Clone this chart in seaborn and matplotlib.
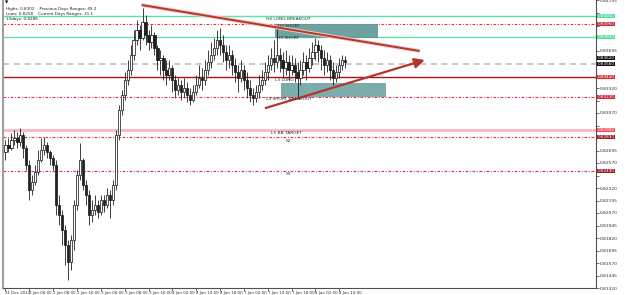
import numpy as np
import pandas as pd
import matplotlib
matplotlib.use("Agg")
import matplotlib.pyplot as plt
import seaborn as sns
from matplotlib.patches import Rectangle
import matplotlib.patheffects as pe

# ---------------- data (prices in 1/10000) ----------------
first_open = 8268
close_p = [8275, 8272, 8280, 8282, 8278, 8285, 8272, 8255, 8230, 8238, 8248, 8260, 8270, 8275, 8268, 8262, 8255,
           8215, 8205, 8190, 8175, 8158, 8180, 8215, 8245, 8260, 8235, 8225, 8205, 8210, 8215, 8208, 8220, 8215,
           8225, 8220, 8235, 8285, 8310, 8325, 8340, 8350, 8365, 8380, 8390, 8382, 8398, 8385, 8378, 8385, 8372,
           8360, 8362, 8350, 8345, 8352, 8340, 8330, 8335, 8328, 8332, 8325, 8320, 8328, 8335, 8342, 8340, 8350,
           8358, 8365, 8372, 8380, 8375, 8368, 8360, 8365, 8355, 8348, 8342, 8350, 8340, 8332, 8325, 8322, 8328,
           8335, 8340, 8348, 8355, 8362, 8358, 8365, 8360, 8352, 8358, 8350, 8355, 8348, 8342, 8350, 8358, 8352,
           8362, 8368, 8375, 8370, 8362, 8355, 8360, 8350, 8342, 8348, 8355, 8360, 8358]
high_p = [8280, 8282, 8287, 8290, 8288, 8292, 8288, 8275, 8260, 8245, 8255, 8270, 8282, 8283, 8278, 8270, 8265,
          8260, 8225, 8210, 8195, 8180, 8185, 8220, 8250, 8277, 8262, 8240, 8230, 8220, 8225, 8220, 8225, 8225,
          8232, 8230, 8240, 8290, 8315, 8330, 8348, 8360, 8375, 8390, 8400, 8395, 8412, 8405, 8390, 8395, 8388,
          8375, 8370, 8365, 8360, 8360, 8355, 8345, 8342, 8340, 8342, 8338, 8332, 8335, 8345, 8355, 8352, 8360,
          8370, 8378, 8382, 8390, 8392, 8385, 8375, 8375, 8370, 8362, 8355, 8360, 8355, 8348, 8340, 8332, 8335,
          8345, 8350, 8358, 8365, 8372, 8380, 8395, 8372, 8368, 8370, 8365, 8365, 8362, 8358, 8360, 8368, 8365,
          8372, 8378, 8382, 8380, 8375, 8370, 8368, 8365, 8358, 8355, 8362, 8365, 8364]
low_p = [8260, 8268, 8270, 8275, 8272, 8274, 8262, 8250, 8220, 8225, 8235, 8245, 8258, 8265, 8262, 8255, 8250,
         8205, 8195, 8175, 8155, 8140, 8150, 8170, 8210, 8240, 8230, 8215, 8195, 8198, 8205, 8202, 8205, 8208,
         8212, 8202, 8215, 8230, 8280, 8305, 8320, 8335, 8345, 8360, 8375, 8370, 8380, 8375, 8370, 8372, 8365,
         8350, 8345, 8340, 8335, 8340, 8328, 8322, 8325, 8320, 8322, 8318, 8315, 8318, 8325, 8332, 8330, 8335,
         8345, 8352, 8360, 8365, 8365, 8358, 8350, 8352, 8345, 8338, 8328, 8338, 8330, 8322, 8318, 8315, 8318,
         8322, 8330, 8335, 8340, 8350, 8348, 8352, 8348, 8342, 8345, 8340, 8345, 8338, 8323, 8335, 8345, 8340,
         8348, 8355, 8360, 8358, 8350, 8345, 8348, 8340, 8335, 8338, 8342, 8350, 8352]

date_labels = ["31 Dec 2012", "2 Jan 00:00", "2 Jan 08:00", "2 Jan 16:00", "3 Jan 00:00", "3 Jan 08:00",
               "3 Jan 16:00", "4 Jan 02:00", "4 Jan 10:00", "4 Jan 18:00", "7 Jan 02:00", "7 Jan 10:00",
               "7 Jan 18:00", "8 Jan 02:00", "8 Jan 10:00"]

level_prices = [0.8404, 0.8396, 0.8383, 0.8356, 0.8343, 0.8323, 0.8290, 0.8283, 0.8249]
level_kinds = ["green", "reddot", "green", "graydash", "redsolid", "reddot", "pink", "reddot", "reddot"]

level_texts = ["H4 LONG BREAKOUT", "H3 SHORT", "H3 SHORT", "L3 LONG", "L4 SHORT BREAKOUT", "L5 BB TARGET", "S2", "S3"]
level_text_prices = [0.8401, 0.8394, 0.8382, 0.8340, 0.8321, 0.8287, 0.8279, 0.8246]
level_text_bars = [87.5, 91.5, 91.0, 90.5, 87.5, 89.0, 94.0, 94.0]

info_lines = ["Highs: 0.8302    Previous Days Ranges: 49.2",
              "Lows: 0.8258    Current Days Ranges: 31.1",
              "13days: 0.8286"]

bid_price = 0.8362

# ---------------- build frame ----------------
df = pd.DataFrame({
    "close": np.array(close_p) / 10000.0,
    "high": np.array(high_p) / 10000.0,
    "low": np.array(low_p) / 10000.0,
})
df["open"] = np.r_[first_open / 10000.0, df["close"].values[:-1]]
df["bar"] = np.arange(len(df))

sns.set_theme(style="white")
plt.rcParams["font.family"] = ["DejaVu Sans"]

fig = plt.figure(figsize=(6.25, 2.95), dpi=100)
ax = fig.add_axes([0.004, 7 / 295, 593 / 625, 288 / 295])
ax.set_xlim(-1, 198)
ax.set_ylim(0.8132, 0.8420)

for p, k in zip(level_prices, level_kinds):
    if k == "green":
        ax.axhline(p, color="#5be3a8", lw=1.0, zorder=1)
    elif k == "reddot":
        ax.axhline(p, color="#e03040", lw=0.8, ls=(0, (2.5, 1.5, 0.8, 1.5)), zorder=1)
    elif k == "graydash":
        ax.axhline(p, color="#b8b8b8", lw=1.1, ls=(0, (4, 3)), zorder=1)
    elif k == "redsolid":
        ax.axhline(p, color="#b01010", lw=1.0, zorder=1)
    elif k == "pink":
        ax.axhline(p, color="#f7b8c2", lw=2.0, zorder=1)

ax.add_patch(Rectangle((90.3, 0.8382), 34.7, 0.0014, color="#5e9898", alpha=0.9, zorder=2, lw=0))
ax.add_patch(Rectangle((92.3, 0.8323), 35.4, 0.0014, color="#6ea3a3", alpha=0.9, zorder=2, lw=0))

up = df["close"] >= df["open"]
hi = np.maximum(df["high"], np.maximum(df["open"], df["close"]))
lo = np.minimum(df["low"], np.minimum(df["open"], df["close"]))
ax.vlines(df["bar"], lo, hi, color="#202020", lw=0.6, zorder=3)
body_lo = np.minimum(df["open"], df["close"])
body_h = np.maximum(np.abs(df["close"] - df["open"]), 0.00004)
ax.bar(df["bar"][up], body_h[up], bottom=body_lo[up], width=0.75, color="white",
       edgecolor="#202020", lw=0.55, zorder=4)
ax.bar(df["bar"][~up], body_h[~up], bottom=body_lo[~up], width=0.75, color="#202020",
       edgecolor="#202020", lw=0.55, zorder=4)

shadow = [pe.withStroke(linewidth=2.8, foreground="#f2c9c0")]
ax.plot([45.7, 139.0], [0.8415, 0.8369], color="#b5352a", lw=1.4, zorder=5,
        path_effects=shadow, solid_capstyle="butt")
ax.annotate("", xy=(140.7, 0.8360), xytext=(87.3, 0.8312),
            arrowprops=dict(arrowstyle="-|>,head_length=0.5,head_width=0.25", color="#b5352a",
                            lw=1.6, shrinkA=0, shrinkB=0), zorder=5)

for t, p, b in zip(level_texts, level_text_prices, level_text_bars):
    ax.text(b, p, t, fontsize=3.2, color="#303030", va="center", ha="left", zorder=6)

ax.text(0.005, 0.99, "\u25bc", transform=ax.transAxes, fontsize=3, color="black", va="center")
for j, line in enumerate(info_lines):
    ax.text(0.006, 0.969 - j * 0.018, line, transform=ax.transAxes, fontsize=3.0, color="#202020",
            va="center")

ax.spines["top"].set_visible(False)
ax.spines["left"].set_color("#a0a0a0")
ax.spines["left"].set_linewidth(1.5)
ax.spines["right"].set_color("#505050")
ax.spines["right"].set_linewidth(0.8)
ax.spines["bottom"].set_color("#505050")
ax.spines["bottom"].set_linewidth(0.8)
ax.yaxis.tick_right()

tag_prices = [p for p, k in zip(level_prices, level_kinds) if k != "graydash"] + [bid_price, 0.8356]
yt = 0.8132 + np.arange(24) * 0.00125
ax.set_yticks(yt)
ax.set_yticklabels(["" if min(abs(v - tp) for tp in tag_prices) < 0.0006 else f"{v:.5f}" for v in yt],
                   fontsize=3.2, color="#303030")
ax.tick_params(axis="y", length=2, width=0.5, pad=1, colors="#303030", right=True)
ax.set_xticks(np.arange(len(date_labels)) * 8)
ax.set_xticklabels(date_labels, fontsize=2.9, color="#303030", ha="left")
ax.tick_params(axis="x", length=2, width=0.5, pad=0.5, bottom=True)
ax.set_xlabel("")
ax.set_ylabel("")

tag_style = {"green": "#4ddf98", "reddot": "#c8283a", "redsolid": "#e23030", "pink": "#f05060"}
for p, k in zip(level_prices, level_kinds):
    if k in tag_style:
        bg = tag_style[k]
        if k == "reddot" and p < 0.8300:
            bg = "#9a1c24"
        ax.text(1.004, p, f"{p:.5f}", transform=ax.get_yaxis_transform(), fontsize=3.0,
                color="white", va="center", ha="left",
                bbox=dict(boxstyle="square,pad=0.1", fc=bg, ec="none"), zorder=7, clip_on=False)
for p in [bid_price, 0.8356]:
    ax.text(1.004, p, f"{p:.5f}", transform=ax.get_yaxis_transform(), fontsize=3.0,
            color="white", va="center", ha="left",
            bbox=dict(boxstyle="square,pad=0.1", fc="#101010", ec="none"), zorder=7, clip_on=False)

fig.savefig("out.png", dpi=100)
